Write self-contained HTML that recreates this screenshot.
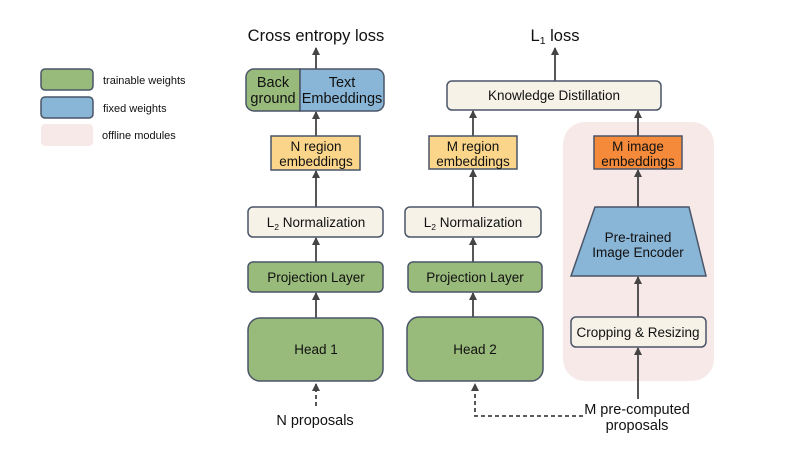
<!DOCTYPE html>
<html><head><style>
html,body{margin:0;padding:0;background:#fff;}
svg{display:block;}
text{font-family:"Liberation Sans",sans-serif;fill:#111;}
</style></head><body>
<svg width="805" height="470" viewBox="0 0 805 470" xmlns="http://www.w3.org/2000/svg">
<defs>
<marker id="a" markerWidth="8" markerHeight="8" refX="7" refY="4" orient="auto" markerUnits="userSpaceOnUse">
<path d="M0,0 L8,4 L0,8 z" fill="#444"/>
</marker>
</defs>
<g stroke="#4a5568" stroke-width="1.5">
<rect x="41" y="69" width="52" height="21" rx="4" fill="#98bb7b"/>
<rect x="41" y="97" width="52" height="21" rx="4" fill="#89b5d6"/>
</g>
<rect x="41" y="124" width="52" height="22" rx="4" fill="#f8e9e9"/>
<text x="103" y="84" font-size="11">trainable weights</text>
<text x="103" y="112" font-size="11">fixed weights</text>
<text x="102" y="139" font-size="11">offline modules</text>

<rect x="563" y="122" width="151" height="259" rx="22" fill="#f8e9e9"/>

<g stroke="#444" stroke-width="1.8" fill="none">
<line x1="316" y1="69" x2="316" y2="48" marker-end="url(#a)"/>
<line x1="316" y1="136" x2="316" y2="112" marker-end="url(#a)"/>
<line x1="316" y1="207" x2="316" y2="171" marker-end="url(#a)"/>
<line x1="316" y1="262" x2="316" y2="238" marker-end="url(#a)"/>
<line x1="316" y1="318" x2="316" y2="293" marker-end="url(#a)"/>
<line x1="316" y1="406" x2="316" y2="384" stroke-dasharray="4,3" marker-end="url(#a)"/>

<line x1="555" y1="81" x2="555" y2="48" marker-end="url(#a)"/>
<line x1="473" y1="136" x2="473" y2="111" marker-end="url(#a)"/>
<line x1="473" y1="207" x2="473" y2="170" marker-end="url(#a)"/>
<line x1="473" y1="262" x2="473" y2="238" marker-end="url(#a)"/>
<line x1="473" y1="317" x2="473" y2="293" marker-end="url(#a)"/>
<polyline points="583,416 475,416 475,384" stroke-dasharray="4,3" marker-end="url(#a)"/>

<line x1="638" y1="136" x2="638" y2="111" marker-end="url(#a)"/>
<line x1="638" y1="207" x2="638" y2="170" marker-end="url(#a)"/>
<line x1="638" y1="317" x2="638" y2="277" marker-end="url(#a)"/>
<line x1="638" y1="399" x2="638" y2="348" marker-end="url(#a)"/>
</g>

<g stroke="#4a5568" stroke-width="1.5">
<path d="M254,69 H300 V111 H254 A8,8 0 0 1 246,103 V77 A8,8 0 0 1 254,69 z" fill="#98bb7b"/>
<path d="M300,69 H376 A8,8 0 0 1 384,77 V103 A8,8 0 0 1 376,111 H300 z" fill="#89b5d6"/>
<rect x="271" y="136" width="89" height="34" fill="#fad58a"/>
<rect x="248" y="207" width="135" height="30" rx="5" fill="#f6f2e8"/>
<rect x="248" y="262" width="135" height="30" rx="5" fill="#98bb7b"/>
<rect x="248" y="318" width="135" height="63" rx="12" fill="#98bb7b"/>
<rect x="447" y="81" width="214" height="29" rx="5" fill="#f6f2e8"/>
<rect x="429" y="136" width="88" height="33" fill="#fad58a"/>
<rect x="405" y="207" width="136" height="30" rx="5" fill="#f6f2e8"/>
<rect x="408" y="262" width="134" height="30" rx="5" fill="#98bb7b"/>
<rect x="407" y="317" width="136" height="64" rx="12" fill="#98bb7b"/>
<rect x="594" y="136" width="88" height="33" fill="#f58a3a"/>
<polygon points="595,207 689,207 706,276 571,276" fill="#89b5d6"/>
<rect x="571" y="317" width="135" height="30" rx="5" fill="#f6f2e8"/>
</g>

<g font-size="13.5" text-anchor="middle">
<text x="273" y="87" font-size="14.5">Back</text>
<text x="273" y="103" font-size="14.5">ground</text>
<text x="342" y="87" font-size="14.5">Text</text>
<text x="342" y="103" font-size="14.5">Embeddings</text>
<text x="316" y="151">N region</text>
<text x="316" y="166">embeddings</text>
<text x="316" y="227">L<tspan font-size="8.5" dy="3">2</tspan><tspan dy="-3"> Normalization</tspan></text>
<text x="316" y="282">Projection Layer</text>
<text x="316" y="354">Head 1</text>

<text x="554" y="100">Knowledge Distillation</text>
<text x="473" y="151">M region</text>
<text x="473" y="166">embeddings</text>
<text x="473" y="227">L<tspan font-size="8.5" dy="3">2</tspan><tspan dy="-3"> Normalization</tspan></text>
<text x="475" y="282">Projection Layer</text>
<text x="475" y="354">Head 2</text>

<text x="638" y="151">M image</text>
<text x="638" y="166">embeddings</text>
<text x="638" y="242">Pre-trained</text>
<text x="638" y="257">Image Encoder</text>
<text x="638" y="337">Cropping &amp; Resizing</text>
</g>
<g font-size="14.5" text-anchor="middle">
<text x="316" y="41" font-size="16.5">Cross entropy loss</text>
<text x="555" y="41" font-size="16.5">L<tspan font-size="10.5" dy="3">1</tspan><tspan dy="-3"> loss</tspan></text>
<text x="315" y="425">N proposals</text>
<text x="637" y="414">M pre-computed</text>
<text x="637" y="430">proposals</text>
</g>
</svg>
</body></html>
